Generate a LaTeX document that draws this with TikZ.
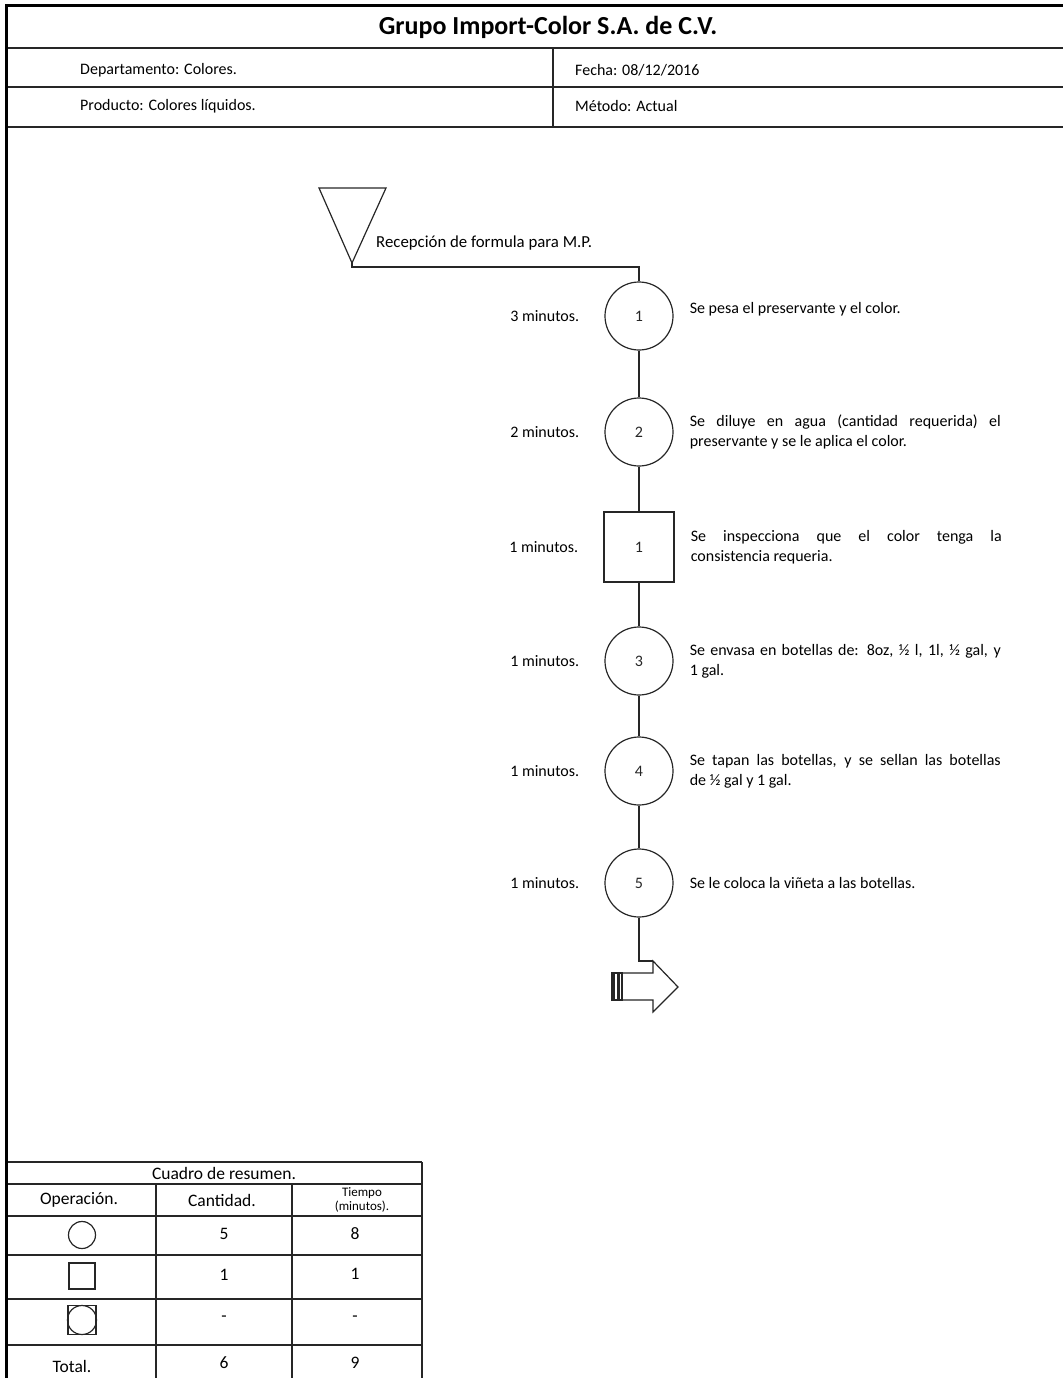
\documentclass[tikz,border=0pt]{standalone}
\usepackage{fontspec}
\setmainfont{Carlito}
\usetikzlibrary{positioning}

\tikzset{
  linea/.style={line width=1.2pt, black!85},
  operacion/.style={circle, draw, linea, minimum size=68pt, inner sep=0pt},
  inspeccion/.style={rectangle, draw, linea, minimum size=70pt, inner sep=0pt},
  tiempo/.style={inner sep=0pt},
  descr/.style={inner sep=0pt, text width=311pt, align=justify},
  celda/.style={inner sep=0pt, font=\fontsize{17.5}{20}\selectfont},
}

\newcommand{\paso}[7]{% #1 = nombre, #2 = forma, #3 = y, #4 = numero, #5 = tiempo, #6 = texto, #7 = yshift
  \node[#2] (#1) at (639,#3) {#4};
  \node[tiempo, left=25pt of #1] (#1t) {#5};
  \node[descr, right=16pt of #1, yshift=#7] (#1d) {\hyphenpenalty=10000 #6};
}

\begin{document}
\begin{tikzpicture}[x=1pt, y=-1pt, font=\fontsize{16}{20}\selectfont]
  \useasboundingbox (0,0) rectangle (1063,1378);

  % marco y encabezado
  \draw[line width=3pt, black] (6.5,1378) -- (6.5,5.5) -- (1063,5.5);
  \foreach \y in {48,87,127} \draw[linea] (8,\y) -- (1063,\y);
  \draw[linea] (553,48) -- (553,127);
  \node[font=\fontsize{26}{30}\selectfont\bfseries] (titulo) at (548,27) {Grupo Import-Color S.A. de C.V.};
  \node[anchor=west, inner sep=0pt] (depto) at (80,70) {Departamento: Colores.};
  \node[anchor=west, inner sep=0pt] (fecha) at (575,70) {Fecha: 08/12/2016};
  \node[anchor=west, inner sep=0pt] (producto) at (80,106) {Producto: Colores líquidos.};
  \node[anchor=west, inner sep=0pt] (metodo) at (575,106) {Método: Actual};

  % almacenamiento inicial
  \draw[linea] (319,188) -- (386,188) -- (352,263) -- cycle;
  \coordinate (recepcion) at (352,263);
  \node[anchor=west, inner sep=0pt, font=\fontsize{16.8}{20}\selectfont] (recepciont) at (376,243) {Recepción de formula para M.P.};

  % pasos
  \paso{p1}{operacion}{316}{1}{3 minutos.}{Se pesa el preservante y el color.}{7pt}
  \paso{p2}{operacion}{432}{2}{2 minutos.}{Se diluye en agua (cantidad requerida) el\linebreak preservante y se le aplica el color.}{0pt}
  \paso{i1}{inspeccion}{547}{1}{1 minutos.}{Se inspecciona que el color tenga la\linebreak consistencia requeria.}{0pt}
  \paso{p3}{operacion}{661}{3}{1 minutos.}{Se envasa en botellas de: 8oz, ½ l, 1l, ½ gal, y\linebreak 1 gal.}{0pt}
  \paso{p4}{operacion}{771}{4}{1 minutos.}{Se tapan las botellas, y se sellan las botellas\linebreak de ½ gal y 1 gal.}{0pt}
  \paso{p5}{operacion}{883}{5}{1 minutos.}{Se le coloca la viñeta a las botellas.}{0pt}

  \draw[linea] (recepcion) -- ++(0,4) -| (p1.north);
  \foreach \a/\b in {p1/p2, p2/i1, i1/p3, p3/p4, p4/p5}
    \draw[linea] (\a) -- (\b);

  % fin
  \coordinate (fin) at (653,961);
  \draw[linea] (p5.south) |- (fin);
  \draw[linea, fill=white] (fin) -- ++(25,26) -- ++(-25,25) -- ++(0,-12) -- ++(-31,0)
        -- ++(0,-27) -- ++(31,0) -- cycle;
  \draw[linea] (612,973) rectangle (622,1000);
  \fill[black!85] (612,973) rectangle (615,1000);
  \fill[black!85] (617,973) rectangle (620,1000);

  % cuadro de resumen
  \foreach \y in {1162,1184,1216,1255,1299,1345} \draw[linea] (8,\y) -- (422,\y);
  \draw[linea] (422,1162) -- (422,1378);
  \foreach \x in {156,292} \draw[linea] (\x,1184) -- (\x,1378);
  \node[celda] (resumen) at (224,1173) {Cuadro de resumen.};
  \node[celda] (colop) at (79,1200) {Operación.};
  \node[celda] (colcant) at (222,1200) {Cantidad.};
  \node[celda, font=\fontsize{13}{14}\selectfont, align=center] (coltiempo) at (362,1200) {Tiempo\\(minutos).};
  \node[circle, draw, linea, minimum size=27pt, inner sep=0pt] (simbop) at (82,1235) {};
  \node[rectangle, draw, linea, minimum size=26pt, inner sep=0pt] (simbin) at (82,1276) {};
  \node[rectangle, draw, linea, minimum width=28pt, minimum height=29pt, inner sep=0pt] (simbcomb) at (82,1320) {};
  \node[circle, draw, linea, minimum size=29pt, inner sep=0pt] (simbcombc) at (simbcomb) {};
  \node[celda] (cantop) at (224,1234) {5};
  \node[celda] (tiemop) at (355,1234) {8};
  \node[celda] (cantin) at (224,1275) {1};
  \node[celda] (tiemin) at (355,1274) {1};
  \node[celda] (cantcomb) at (224,1319) {-};
  \node[celda] (tiemcomb) at (355,1319) {-};
  \node[celda] (total) at (72,1366) {Total.};
  \node[celda] (canttot) at (224,1363) {6};
  \node[celda] (tiemtot) at (355,1363) {9};
\end{tikzpicture}
\end{document}
